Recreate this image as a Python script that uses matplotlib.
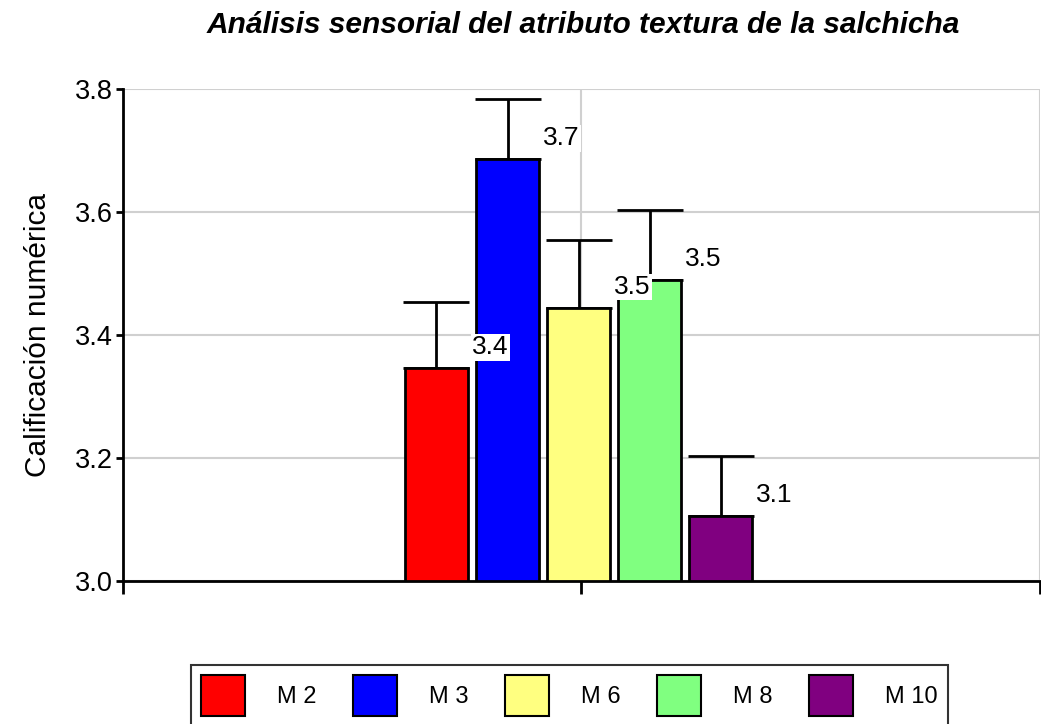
import numpy as np
import matplotlib.pyplot as plt
from matplotlib.patches import Patch

plt.rcParams['font.family'] = ['Liberation Sans', 'DejaVu Sans']

# Datos
muestras = ["M 2", "M 3", "M 6", "M 8", "M 10"]
medias = [3.346, 3.686, 3.444, 3.489, 3.106]
errores = [0.108, 0.098, 0.110, 0.114, 0.097]
etiquetas = ["3.4", "3.7", "3.5", "3.5", "3.1"]
colores = ["#ff0000", "#0000ff", "#ffff80", "#80ff80", "#800080"]

fig = plt.figure(figsize=(10.41, 7.24), dpi=100)
ax = fig.add_axes([0.118, 0.1975, 0.881, 0.6796])

ancho = 0.137
paso = 0.155
pos = (np.arange(len(muestras)) - 2) * paso - 0.006

ax.bar(pos, [m - 3.0 for m in medias], bottom=3.0, width=ancho,
       color=colores, edgecolor="black", linewidth=2, zorder=3)
ax.errorbar(pos, medias, yerr=[np.zeros(len(errores)), errores], fmt="none",
            ecolor="black", elinewidth=2, capsize=24, capthick=2, zorder=2)

for x, m, t in zip(pos, medias, etiquetas):
    ax.annotate(t, xy=(x + ancho / 2, m), xytext=(3, 15), textcoords="offset points",
                fontsize=19, ha="left", va="center", zorder=5,
                bbox=dict(facecolor="white", edgecolor="none", pad=1))

ax.set_xlim(-1, 1)
ax.set_ylim(3.0, 3.8)
ax.set_yticks([3.0, 3.2, 3.4, 3.6, 3.8])
ax.set_yticklabels(["3.0", "3.2", "3.4", "3.6", "3.8"], fontsize=19.5)
ax.set_xticks([-1, 0, 1])
ax.set_xticklabels([])
ax.tick_params(axis="x", length=9, width=2, direction="out")
ax.tick_params(axis="y", length=5, width=2, direction="out", pad=2)
ax.grid(True, color="#d0d0d0", linewidth=1.5, zorder=0)
ax.set_axisbelow(True)
for s in ["top", "right"]:
    ax.spines[s].set_visible(False)
for s in ["left", "bottom"]:
    ax.spines[s].set_linewidth(2)

ax.set_ylabel("Calificación numérica", fontsize=21.5, labelpad=17)
fig.text(0.56, 0.966, "Análisis sensorial del atributo textura de la salchicha",
         fontsize=21.5, fontweight="bold", fontstyle="italic", ha="center", va="center")

handles = [Patch(facecolor=c, edgecolor="black", linewidth=1.5) for c in colores]
leg = fig.legend(handles, muestras, loc="upper center", bbox_to_anchor=(0.547, 0.082),
                 ncol=5, fontsize=17, frameon=True, fancybox=False,
                 handlelength=1.85, handleheight=2.3, handletextpad=1.35,
                 columnspacing=1.56, borderpad=0.45, borderaxespad=0)
leg.get_frame().set_edgecolor("black")
leg.get_frame().set_linewidth(1.5)

fig.savefig("out.png", dpi=100)
